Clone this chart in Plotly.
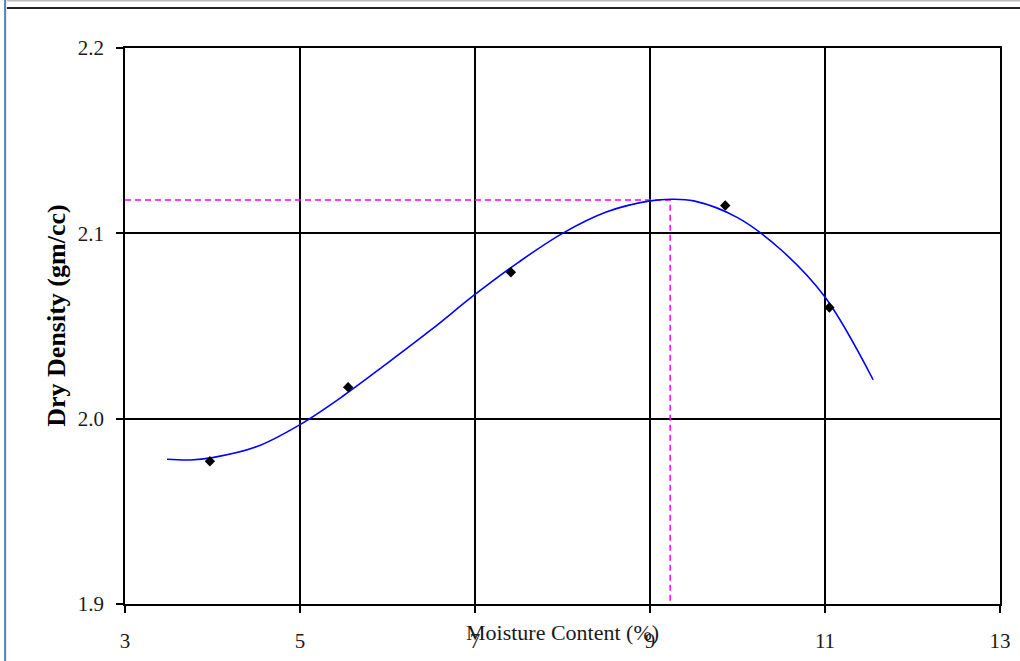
import plotly.graph_objects as go

# Compaction test results
moisture = [3.97, 5.55, 7.41, 9.86, 11.05]
dry_density = [1.977, 2.017, 2.079, 2.115, 2.060]

# Fitted compaction curve
curve_x = [3.48, 3.75, 4.0, 4.5, 5.0, 5.5, 6.0, 6.5, 7.0, 7.5, 8.0, 8.5,
           9.0, 9.25, 9.5, 10.0, 10.5, 11.0, 11.55]
curve_y = [1.9781, 1.9777, 1.9790, 1.9848, 1.9968, 2.0125, 2.0300, 2.0480,
           2.0670, 2.0845, 2.1000, 2.1115, 2.1175, 2.1184, 2.1175, 2.1085,
           2.0910, 2.0656, 2.0210]

# Optimum moisture content and maximum dry density
omc = 9.23
mdd = 2.118

x_ticks = [3, 5, 7, 9, 11, 13]
y_ticks = [1.9, 2.0, 2.1, 2.2]
y_tick_text = ["1.9", "2.0", "2.1", "2.2"]

serif = "Liberation Serif"

fig = go.Figure()

fig.add_trace(go.Scatter(
    x=[x_ticks[0], omc, omc], y=[mdd, mdd, y_ticks[0]],
    mode="lines", line=dict(color="#ff00ff", width=1.5, dash="6px,4px"),
    hoverinfo="skip", showlegend=False,
))

fig.add_trace(go.Scatter(
    x=curve_x, y=curve_y, mode="lines", line_shape="spline",
    line=dict(color="#0000ff", width=1.6), showlegend=False,
))

fig.add_trace(go.Scatter(
    x=moisture, y=dry_density, mode="markers",
    marker=dict(symbol="diamond", size=8, color="black"),
    showlegend=False,
))

axis_common = dict(
    showline=True, linecolor="black", linewidth=1.5, mirror=True,
    showgrid=True, gridcolor="black", gridwidth=1.5,
    ticks="outside", ticklen=7, tickcolor="black", tickwidth=1.5,
    zeroline=False, automargin=False,
    tickfont=dict(family=serif, size=21, color="#1a1a1a"),
)

fig.update_xaxes(range=[3, 13], tickvals=x_ticks, ticktext=[str(v) for v in x_ticks],
                 ticklabelstandoff=10, **axis_common)
fig.update_yaxes(range=[1.9, 2.2], tickvals=y_ticks, ticktext=y_tick_text,
                 ticklabelstandoff=8, **axis_common)

fig.update_layout(
    width=1020, height=661,
    margin=dict(l=125, r=20, t=48, b=57),
    paper_bgcolor="white", plot_bgcolor="white",
    annotations=[
        dict(text="Moisture Content (%)", xref="paper", yref="paper",
             x=0.5, y=-0.052, xanchor="center", yanchor="middle",
             showarrow=False, font=dict(family=serif, size=22, color="#1a1a1a")),
        dict(text="<b>Dry Density (gm/cc)</b>", xref="paper", yref="paper",
             x=-0.078, y=0.518, xanchor="center", yanchor="middle",
             textangle=-90, showarrow=False,
             font=dict(family=serif, size=26, color="black")),
    ],
    shapes=[
        dict(type="line", xref="paper", yref="paper", x0=-0.137, x1=-0.137,
             y0=-0.2, y1=1.2, line=dict(color="#4f81bd", width=2)),
        dict(type="line", xref="paper", yref="paper", x0=-0.135, x1=1.03,
             y0=1.072, y1=1.072, line=dict(color="#222222", width=2)),
        dict(type="line", xref="paper", yref="paper", x0=-0.135, x1=1.03,
             y0=1.085, y1=1.085, line=dict(color="#bbbbbb", width=1.5)),
    ],
)

fig.write_html("out.html")
